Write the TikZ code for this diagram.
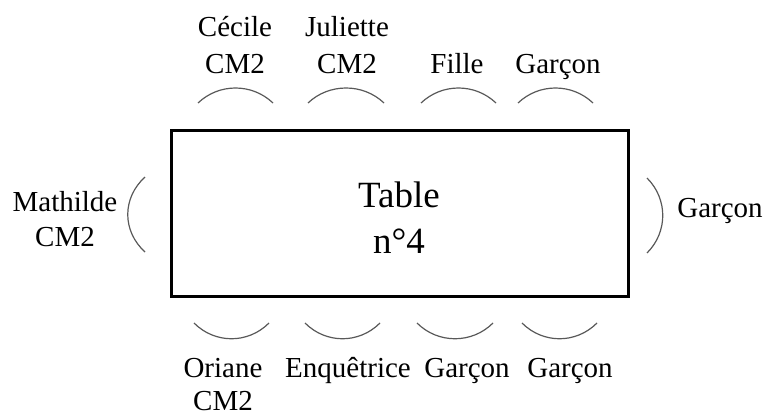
\documentclass[tikz,border=0pt]{standalone}
\usepackage{fontspec}
\setmainfont{Liberation Serif}
\tikzset{
  chair/.style={draw=black!65, line width=1.2pt},
  lbl/.style={align=center, inner sep=0pt, anchor=base, font=\fontsize{29}{35}\selectfont},
  tablebox/.style={draw, line width=3pt, minimum width=457pt, minimum height=166pt}
}
\begin{document}
\begin{tikzpicture}[x=1pt,y=-1pt]
\useasboundingbox (0,0) rectangle (767,415);
\node[tablebox] (table) at (399.5,213) {};
\node[lbl, font=\fontsize{37}{46}\selectfont] (tabletext) at (399,253) {Table\\n°4};
% chaises en haut et en bas
\foreach \xa/\xb in {198/273,308/384,421/496,518/593} {
 \draw[chair] (\xa,103) .. controls +(21,-20) and +(-21,-20) .. (\xb,103);
}
\foreach \xa/\xb in {194/269,305/380,417/493,522/597} {
 \draw[chair] (\xa,323) .. controls +(21,21) and +(-21,21) .. (\xb,323);
}
% chaises sur les cotes
\draw[chair] (145,177) .. controls +(-23,21) and +(-23,-21) .. (145,252);
\draw[chair] (647,178) .. controls +(21,21) and +(21,-21) .. (647,253);
% noms
\node[lbl, font=\fontsize{29}{37}\selectfont] (cecile) at (235,73) {Cécile\\CM2};
\node[lbl, font=\fontsize{29}{37}\selectfont] (juliette) at (347,73) {Juliette\\CM2};
\node[lbl] (fille) at (457,73) {Fille};
\node[lbl] (garconh) at (558,73) {Garçon};
\node[lbl] (mathilde) at (65,246) {Mathilde\\CM2};
\node[lbl] (garcond) at (720,217) {Garçon};
\node[lbl, font=\fontsize{29}{33}\selectfont] (oriane) at (223,410) {Oriane\\CM2};
\node[lbl] (enquetrice) at (348,377) {Enquêtrice};
\node[lbl] (garconb) at (467,377) {Garçon};
\node[lbl] (garconc) at (570,377) {Garçon};
\end{tikzpicture}
\end{document}
